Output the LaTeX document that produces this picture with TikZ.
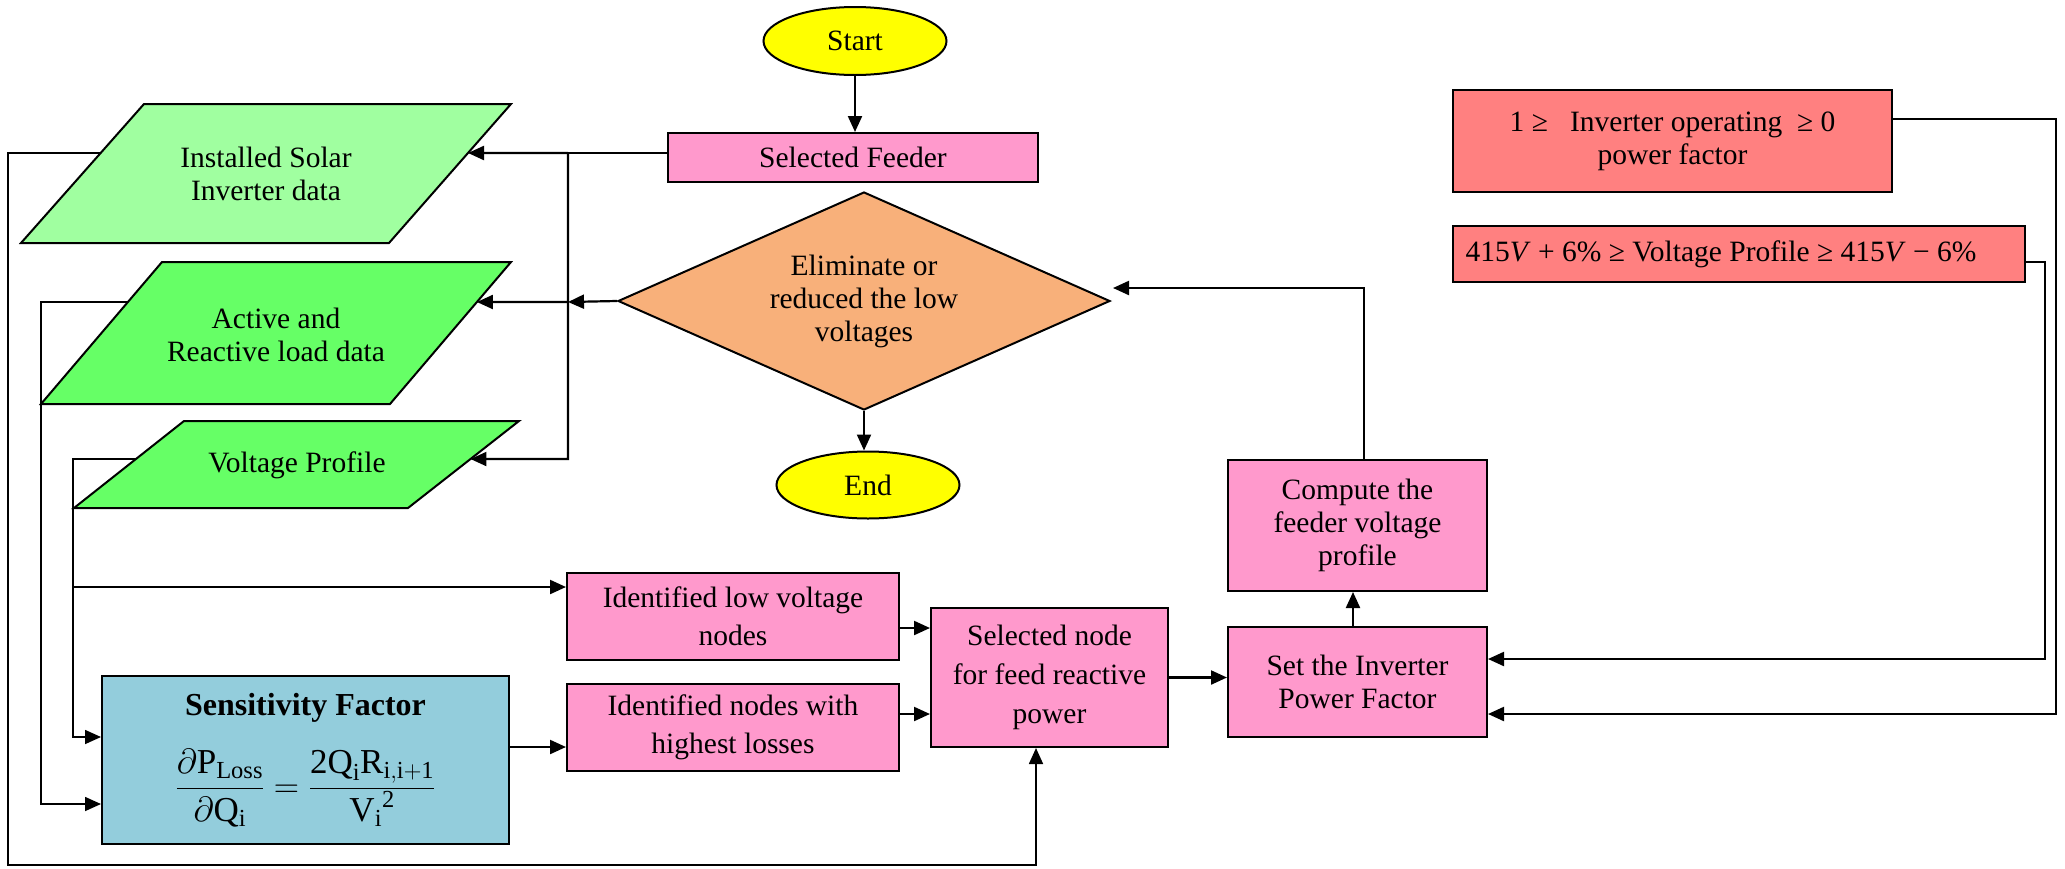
\RequirePackage{fix-cm}
\documentclass[tikz,border=0pt]{standalone}
\usepackage{fontspec}
\setmainfont{Liberation Serif}
\usetikzlibrary{shapes.geometric,arrows.meta,calc}
\definecolor{pinkbox}{HTML}{FF99CC}
\definecolor{orangedia}{HTML}{F8B07A}
\definecolor{lgreen}{HTML}{A0FFA0}
\definecolor{mgreen}{HTML}{66FF66}
\definecolor{aquabox}{HTML}{93CDDC}
\definecolor{redbox}{HTML}{FF8080}
\definecolor{yel}{HTML}{FFFF00}
\begin{document}
\begin{tikzpicture}[x=1pt,y=-1pt,
  font=\fontsize{29.5}{33}\selectfont,
  base/.style={draw=black, line width=2pt, inner sep=0pt, align=center},
  pbox/.style={base, rectangle, fill=pinkbox},
  term/.style={base, ellipse, fill=yel},
  para/.style={draw=black, line width=2pt, line join=miter},
  conn/.style={line width=2.2pt},
  arr/.style={conn, -{Triangle[length=16pt,width=14pt]}},
  lconn/.style={line width=1.7pt, -{Triangle[length=16pt,width=14pt]}},
]
\useasboundingbox (0,0) rectangle (2065,868);

% terminals and central column
\node[term, minimum width=183pt, minimum height=68pt] (start) at (855,41) {Start};
\node[pbox, minimum width=370pt, minimum height=49pt] (feeder) at (853,157.5) {Selected Feeder};
\node[base, diamond, fill=orangedia, aspect=2.26, minimum width=492pt, minimum height=218pt] (dia) at (864,301) {Eliminate or\\reduced the low\\voltages};
\node[term, minimum width=183pt, minimum height=67pt] (end) at (868,485) {End};

% parallelograms
\coordinate (p1tl) at (144,104); \coordinate (p1tr) at (511,104);
\coordinate (p1br) at (389,243); \coordinate (p1bl) at (21,243);
\path[para, fill=lgreen] (p1tl) -- (p1tr) -- (p1br) -- (p1bl) -- cycle;
\node[align=center] (p1) at (266,174) {Installed Solar\\Inverter data};

\coordinate (p2tl) at (162,262); \coordinate (p2tr) at (511,262);
\coordinate (p2br) at (390,404); \coordinate (p2bl) at (41,404);
\path[para, fill=mgreen] (p2tl) -- (p2tr) -- (p2br) -- (p2bl) -- cycle;
\node[align=center] (p2) at (276,335) {Active and\\Reactive load data};

\coordinate (p3tl) at (184,421); \coordinate (p3tr) at (519,421);
\coordinate (p3br) at (408,508); \coordinate (p3bl) at (74,508);
\path[para, fill=mgreen] (p3tl) -- (p3tr) -- (p3br) -- (p3bl) -- cycle;
\node[align=center] (p3) at (297,465) {Voltage Profile};

\coordinate (p1r) at ($(p1tr)!0.3525!(p1br)$);
\coordinate (p1l) at ($(p1tl)!0.3525!(p1bl)$);
\coordinate (p2r) at ($(p2tr)!0.2817!(p2br)$);
\coordinate (p2l) at ($(p2tl)!0.2817!(p2bl)$);
\coordinate (p3r) at ($(p3tr)!0.437!(p3br)$);
\coordinate (p3l) at ($(p3tl)!0.437!(p3bl)$);

% lower boxes
\node[base, rectangle, fill=aquabox, minimum width=407pt, minimum height=168pt] (sens) at (305.5,760)
  {{\bfseries\fontsize{32}{36}\selectfont Sensitivity Factor}\\[26pt]
   {\fontsize{35}{38}\selectfont$\displaystyle \frac{\partial \mathrm{P}_{\mathrm{Loss}}}{\partial \mathrm{Q}_{\mathrm{i}}}
   \mathrel{\mathrm{=}} \frac{\mathrm{2Q}_{\mathrm{i}}\mathrm{R}_{\mathrm{i,i+1}}}{{\mathrm{V}_{\mathrm{i}}}^{\mathrm{2}}}$}};
\node[pbox, minimum width=332pt, minimum height=87pt] (lv) at (733,616.5) {Identified low voltage\\[5pt]nodes};
\node[pbox, minimum width=332pt, minimum height=87pt] (hl) at (733,727.5) {Identified nodes with\\[5pt]highest losses};
\node[pbox, minimum width=237pt, minimum height=139pt] (sn) at (1049.5,677.5) {Selected node\\[6pt]for feed reactive\\[6pt]power};
\node[pbox, minimum width=259pt, minimum height=131pt] (cp) at (1357.5,525.5) {Compute the\\feeder voltage\\profile};
\node[pbox, minimum width=259pt, minimum height=110pt] (si) at (1357.5,682) {Set the Inverter\\Power Factor};

% constraint boxes
\node[base, rectangle, fill=redbox, minimum width=439pt, minimum height=102pt] (rb1) at (1672.5,141)
  {1 ≥\ \ \ Inverter operating\ \ ≥ 0\\power factor};
\node[base, rectangle, fill=redbox, minimum width=572pt, minimum height=56pt] (rb2) at (1739,254)
  {415\textit{V} + 6\% ≥ Voltage Profile ≥ 415\textit{V} − 6\%\hspace*{36pt}};

% central connectors
\draw[arr] (start.south) -- (start.south |- feeder.north);
\draw[arr] (dia.south) -- (dia.south |- end.north);

% feeder to data inputs
\coordinate (fw) at ([yshift=4.5pt]feeder.west);
\coordinate (j1) at (568,153);
\coordinate (j2) at (568,302);
\coordinate (j3) at (568,459);
\draw[conn] (fw) -- (j1);
\draw[arr] (j1) -- (p1r);
\draw[arr] (j1) -- (j3) -- (p3r);
\draw[arr] (dia.west) -- (j2);
\draw[arr] (j2) -- (p2r);

% left feedback lines
\coordinate (c1) at (8,865);
\coordinate (snb) at ([xshift=-13.5pt]sn.south);
\draw[lconn] (p1l) -| (c1) -| (snb);
\coordinate (c2) at (41,804);
\draw[lconn] (p2l) -| (c2) -- (c2 -| sens.west);
\coordinate (c3) at (73,737);
\draw[lconn] (p3l) -| (c3) -- (c3 -| sens.west);
\coordinate (c4) at (73,587);
\draw[arr] (c4) -- (c4 -| lv.west);

% middle connectors
\coordinate (a1) at ([yshift=-11.5pt]lv.east);
\draw[arr] (a1) -- (a1 -| sn.west);
\coordinate (a2) at ([yshift=13.5pt]hl.east);
\draw[arr] (a2) -- (a2 -| sn.west);
\coordinate (a3) at ([yshift=13pt]sens.east);
\draw[arr] (a3) -- (a3 -| hl.west);
\draw[arr] (sn.east) -- (sn.east -| si.west);
\draw[arr] ([xshift=-4.5pt]si.north) -- ([xshift=-4.5pt]cp.south);
\coordinate (dtip) at ([xshift=2pt,yshift=13pt]dia.east);
\draw[arr] ([xshift=6.5pt]cp.north) |- (dtip);

% constraint feedback
\coordinate (r1b) at (2056,714);
\draw[arr] ([yshift=22pt]rb1.east) -| (r1b) -- (r1b -| si.east);
\coordinate (r2b) at (2045,659);
\draw[arr] ([yshift=-8pt]rb2.east) -| (r2b) -- (r2b -| si.east);
\end{tikzpicture}
\end{document}
